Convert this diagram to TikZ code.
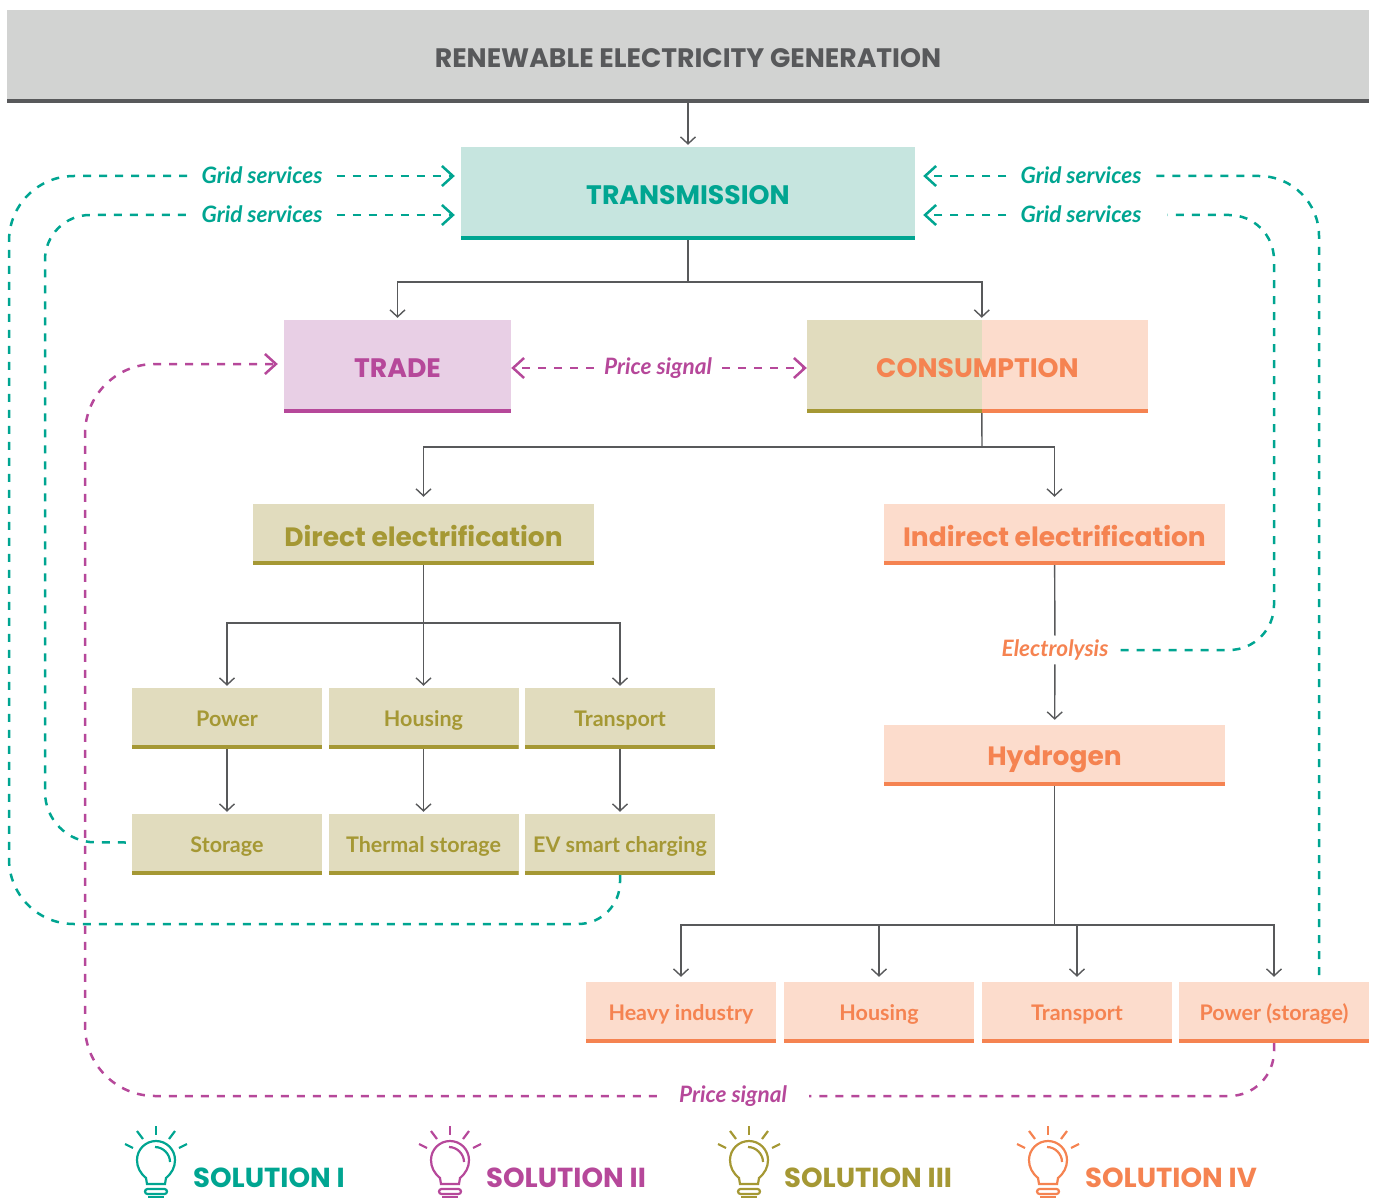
\documentclass[tikz,border=0pt]{standalone}
\usepackage{fontspec}
\usepackage{xcolor}
\usetikzlibrary{arrows.meta,positioning,calc}
\newfontfamily\headfont{Poppins}
\newfontfamily\labelfont{Lato}
\definecolor{tealline}{HTML}{00A591}
\definecolor{tealfill}{HTML}{C6E5DF}
\definecolor{pinkline}{HTML}{B6489A}
\definecolor{pinkfill}{HTML}{E8CFE5}
\definecolor{oliveline}{HTML}{A59834}
\definecolor{olivefill}{HTML}{E1DCBE}
\definecolor{orangeline}{HTML}{F58351}
\definecolor{orangefill}{HTML}{FCDCCC}
\definecolor{greyline}{HTML}{58595B}
\definecolor{greyfill}{HTML}{D2D3D2}
\tikzset{
    barred/.style={path picture={\fill[#1] (path picture bounding box.south west) rectangle ([yshift=4pt]path picture bounding box.south east);}},
    box/.style={inner sep=0pt,align=center,text depth=0pt},
    tealbox/.style={box,fill=tealfill,text=tealline,barred=tealline},
    pinkbox/.style={box,fill=pinkfill,text=pinkline,barred=pinkline},
    olivebox/.style={box,fill=olivefill,text=oliveline,barred=oliveline},
    orangebox/.style={box,fill=orangefill,text=orangeline,barred=orangeline},
    tallsize/.style={minimum height=93pt,text height=22pt,font=\headfont\bfseries\fontsize{26.7}{30}\selectfont},
    midsize/.style={minimum width=341pt,minimum height=61pt,text height=23pt,font=\headfont\bfseries\fontsize{26.5}{30}\selectfont},
    smallsize/.style={minimum width=190pt,minimum height=61pt,text height=16pt,font=\labelfont\bfseries\fontsize{21.5}{24}\selectfont},
    sig/.style={inner xsep=14pt,inner ysep=1pt,font=\labelfont\bfseries\itshape\fontsize{22.6}{26}\selectfont},
    flow/.style={greyline,line width=1.4pt},
    flowto/.style={flow,-{Straight Barb[length=7pt,width=15pt]},shorten >=2pt},
    griddash/.style={tealline,line width=2.5pt,dash pattern=on 8pt off 8pt},
    pricedash/.style={pinkline,line width=2.5pt,dash pattern=on 8pt off 8pt},
    sigto/.style={-{Straight Barb[length=11pt,width=20pt]},shorten >=6pt},
    sollabel/.style={anchor=west,inner sep=0pt,font=\headfont\bfseries\fontsize{27.5}{30}\selectfont},
    pics/bulb/.style={code={
        \draw[line width=2.2pt] (-10,18) .. controls (-16,13) and (-19,7) .. (-19,0) .. controls (-19,-10.5) and (-10.5,-19) .. (0,-19) .. controls (10.5,-19) and (19,-10.5) .. (19,0) .. controls (19,7) and (16,13) .. (10,18) -- (9,24) -- (-9,24) -- cycle;
        \draw[line width=2.2pt] (-1,-13) .. controls (7,-13) and (14,-6) .. (14,2);
        \draw[line width=2.2pt,rounded corners=2.5pt] (-11,29) rectangle (11,34);
        \draw[line width=2.2pt] (-8,37) -- (8,37);
        \foreach \xa/\ya/\xb/\yb in {0/-34/0/-25,-19/-29/-13/-21,19/-29/13/-21,-31/-16/-23/-12,31/-16/23/-12}
            \draw[line width=2.2pt] (\xa,\ya) -- (\xb,\yb);
    }},
}
\begin{document}
\begin{tikzpicture}[x=1pt,y=-1pt]
    \useasboundingbox (0,0) rectangle (1373,1198);

    % Boxes
    \node[box,fill=greyfill,text=greyline,barred=greyline,minimum width=1362pt,minimum height=93pt,text height=23pt,font=\headfont\bfseries\fontsize{26.7}{30}\selectfont] (top) at (688,56.5) {RENEWABLE ELECTRICITY GENERATION};
    \node[tealbox,tallsize,minimum width=454pt] (trans) at (688,193.5) {TRANSMISSION};
    \node[pinkbox,tallsize,minimum width=227pt] (trade) at (397.5,366.5) {TRADE};
    \node[olivebox,minimum width=175pt,minimum height=93pt] (conleft) at (894.5,366.5) {};
    \node[orangebox,minimum width=166pt,minimum height=93pt] (conright) at (1065,366.5) {};
    \node[box,tallsize,text=orangeline] (contitle) at (977.5,366.5) {CONSUMPTION};

    \node[olivebox,midsize] (direct) at (423.5,534.5) {Direct electrification};
    \node[orangebox,midsize] (indirect) at (1054.5,534.5) {Indirect electrification};
    \node[orangebox,midsize,text height=19pt] (hydrogen) at (1054.5,755.5) {Hydrogen};

    \node[olivebox,smallsize] (power) at (227,718.5) {Power};
    \node[olivebox,smallsize] (housing) at (423.5,718.5) {Housing};
    \node[olivebox,smallsize] (transport) at (620,718.5) {Transport};
    \node[olivebox,smallsize] (storage) at (227,844.5) {Storage};
    \node[olivebox,smallsize] (thermal) at (423.5,844.5) {Thermal storage};
    \node[olivebox,smallsize] (ev) at (620,844.5) {EV smart charging};

    \node[orangebox,smallsize] (heavy) at (681,1012.5) {Heavy industry};
    \node[orangebox,smallsize] (hhousing) at (879,1012.5) {Housing};
    \node[orangebox,smallsize] (htransport) at (1077,1012.5) {Transport};
    \node[orangebox,smallsize] (hpower) at (1274,1012.5) {Power (storage)};

    % Labels on the dashed lines
    \node[sig,text=tealline] (gridA) at (262,175) {Grid services};
    \node[sig,text=tealline] (gridB) at (262,214) {Grid services};
    \node[sig,text=tealline] (gridC) at (1081,175) {Grid services};
    \node[sig,text=tealline] (gridD) at (1081,214) {Grid services};
    \node[sig,text=pinkline,inner xsep=10pt] (priceA) at (658,368) {Price signal};
    \node[sig,text=pinkline,inner xsep=22pt] (priceB) at (733,1096) {Price signal};
    \node[sig,text=orangeline,inner xsep=12pt,inner ysep=4pt] (electro) at (1055,650) {Electrolysis};

    % Solid connectors
    \coordinate (transjoin) at (688,282);
    \coordinate (conjoin) at (982,447);
    \coordinate (directjoin) at (423.5,623);
    \coordinate (hydrojoin) at (1054.5,925);
    \draw[flowto] (top) -- (trans);
    \draw[flow] (trans) -- (transjoin);
    \draw[flowto] (transjoin) -| (trade.north);
    \draw[flowto] (transjoin) -| (conright.north west);
    \draw[flow] (conright.south west) -- (conjoin);
    \draw[flowto,shorten >=7pt] (conjoin) -| (direct.north);
    \draw[flowto,shorten >=7pt] (conjoin) -| (indirect.north);
    \draw[flow] (direct) -- (directjoin);
    \draw[flowto] (directjoin) -| (power.north);
    \draw[flowto] (directjoin) -- (housing.north);
    \draw[flowto] (directjoin) -| (transport.north);
    \draw[flowto] (power) -- (storage);
    \draw[flowto] (housing) -- (thermal);
    \draw[flowto] (transport) -- (ev);
    \draw[flow] (indirect) -- (electro);
    \draw[flowto,shorten >=5pt] (electro) -- (hydrogen);
    \draw[flow] (hydrogen) -- (hydrojoin);
    \draw[flowto,shorten >=5pt] (hydrojoin) -| (heavy.north);
    \draw[flowto,shorten >=5pt] (hydrojoin) -| (hhousing.north);
    \draw[flowto,shorten >=5pt] (hydrojoin) -| (htransport.north);
    \draw[flowto,shorten >=5pt] (hydrojoin) -| (hpower.north);

    % Grid services loops
    \draw[griddash] (ev.south) [rounded corners=42pt] -- (ev.south |- 0,924) [rounded corners=65pt] -- (9,924) -- (9,176) [rounded corners=0pt] -- (gridA.west |- 0,176);
    \draw[griddash,sigto] (gridA.east |- 0,176) -- (trans.west |- 0,176);
    \draw[griddash] (storage.west) ++(-6,-2) [rounded corners=50pt] -- (45,842) [rounded corners=45pt] -- (45,215) [rounded corners=0pt] -- (gridB.west |- 0,215);
    \draw[griddash,sigto] (gridB.east |- 0,215) -- (trans.west |- 0,215);
    \draw[griddash] (1319,975) [rounded corners=60pt] -- (1319,176) [rounded corners=0pt] -- (gridC.east |- 0,176);
    \draw[griddash,sigto,shorten >=8pt] (gridC.west |- 0,176) -- (trans.east |- 0,176);
    \draw[griddash] (electro.east |- 0,650) [rounded corners=45pt] -- (1274,650) -- (1274,215) [rounded corners=0pt] -- ([xshift=12pt]gridD.east |- 0,215);
    \draw[griddash,sigto,shorten >=8pt] (gridD.west |- 0,215) -- (trans.east |- 0,215);

    % Price signal lines
    \draw[pricedash] (hpower.south) [rounded corners=45pt] -- (hpower.south |- 0,1096) [rounded corners=0pt] -- (priceB.east |- 0,1096);
    \draw[pricedash,sigto] (priceB.west |- 0,1096) [rounded corners=70pt] -- (85,1096) -- (85,364) [rounded corners=0pt] -- (trade.west |- 0,364);
    \draw[pricedash,sigto,shorten >=0pt] (priceA.west |- 0,368) -- (trade.east |- 0,368);
    \draw[pricedash,sigto,shorten >=0pt] (priceA.east |- 0,368) -- (conleft.west |- 0,368);

    % Solutions
    \pic[tealline] at (156,1160) {bulb};
    \pic[pinkline] at (450,1160) {bulb};
    \pic[oliveline] at (749,1160) {bulb};
    \pic[orangeline] at (1048,1160) {bulb};
    \node[sollabel,text=tealline] (solA) at (193,1178) {SOLUTION I};
    \node[sollabel,text=pinkline] (solB) at (486,1178) {SOLUTION II};
    \node[sollabel,text=oliveline] (solC) at (784,1178) {SOLUTION III};
    \node[sollabel,text=orangeline] (solD) at (1085,1178) {SOLUTION IV};
\end{tikzpicture}
\end{document}
